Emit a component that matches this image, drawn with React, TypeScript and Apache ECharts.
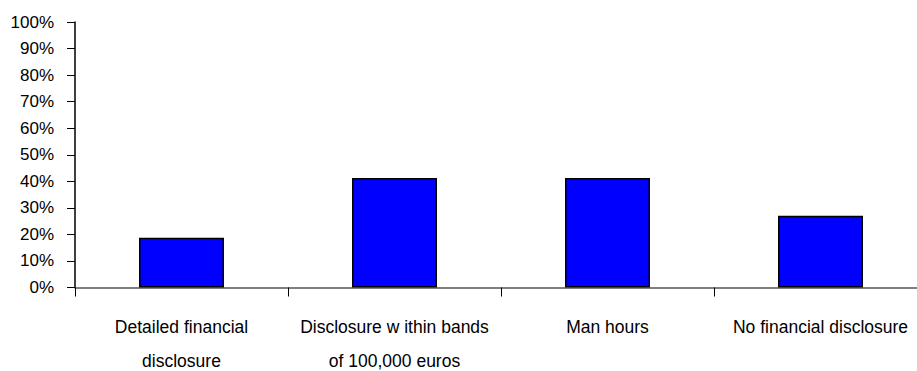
import React, { useEffect, useRef } from "react";
import * as echarts from "echarts";

const categories = [
  "Detailed financial\ndisclosure",
  "Disclosure w ithin bands\nof 100,000 euros",
  "Man hours",
  "No financial disclosure",
];
const values = [18.7, 41.2, 41.2, 27.0];
const yMin = 0;
const yMax = 100;
const yInterval = 10;

const FONT = "'Liberation Sans', Arial, sans-serif";

export default function App() {
  const ref = useRef<HTMLDivElement>(null);
  useEffect(() => {
    document.body.style.margin = "0";
    if (!ref.current) return;
    const chart = echarts.init(ref.current, null, { renderer: "svg" });
    chart.setOption({
      animation: false,
      backgroundColor: "#ffffff",
      grid: {
        left: 75,
        right: -10,
        top: 22,
        bottom: 83.5,
        containLabel: false,
        outerBoundsMode: "none",
      },
      xAxis: {
        type: "category",
        data: categories,
        boundaryGap: true,
        axisLine: { show: true, lineStyle: { color: "#555555", width: 1.5 } },
        axisTick: { show: true, length: 9, lineStyle: { color: "#000000", width: 1 } },
        axisLabel: {
          interval: 0,
          margin: 22,
          fontFamily: FONT,
          fontSize: 17.5,
          lineHeight: 34,
          color: "#000000",
        },
        splitLine: { show: false },
      },
      yAxis: {
        type: "value",
        min: yMin,
        max: yMax,
        interval: yInterval,
        axisLine: { show: true, lineStyle: { color: "#000000", width: 1.5 } },
        axisTick: { show: true, length: 8, lineStyle: { color: "#000000", width: 1 } },
        axisLabel: {
          formatter: "{value}%",
          margin: 21,
          fontFamily: FONT,
          fontSize: 17,
          color: "#000000",
        },
        splitLine: { show: false },
      },
      series: [
        {
          type: "bar",
          data: values,
          barWidth: 85,
          itemStyle: { color: "#0000ff", borderColor: "#000000", borderWidth: 1.5 },
        },
      ],
    });
    return () => chart.dispose();
  }, []);
  return <div ref={ref} style={{ width: 917, height: 371 }} />;
}
